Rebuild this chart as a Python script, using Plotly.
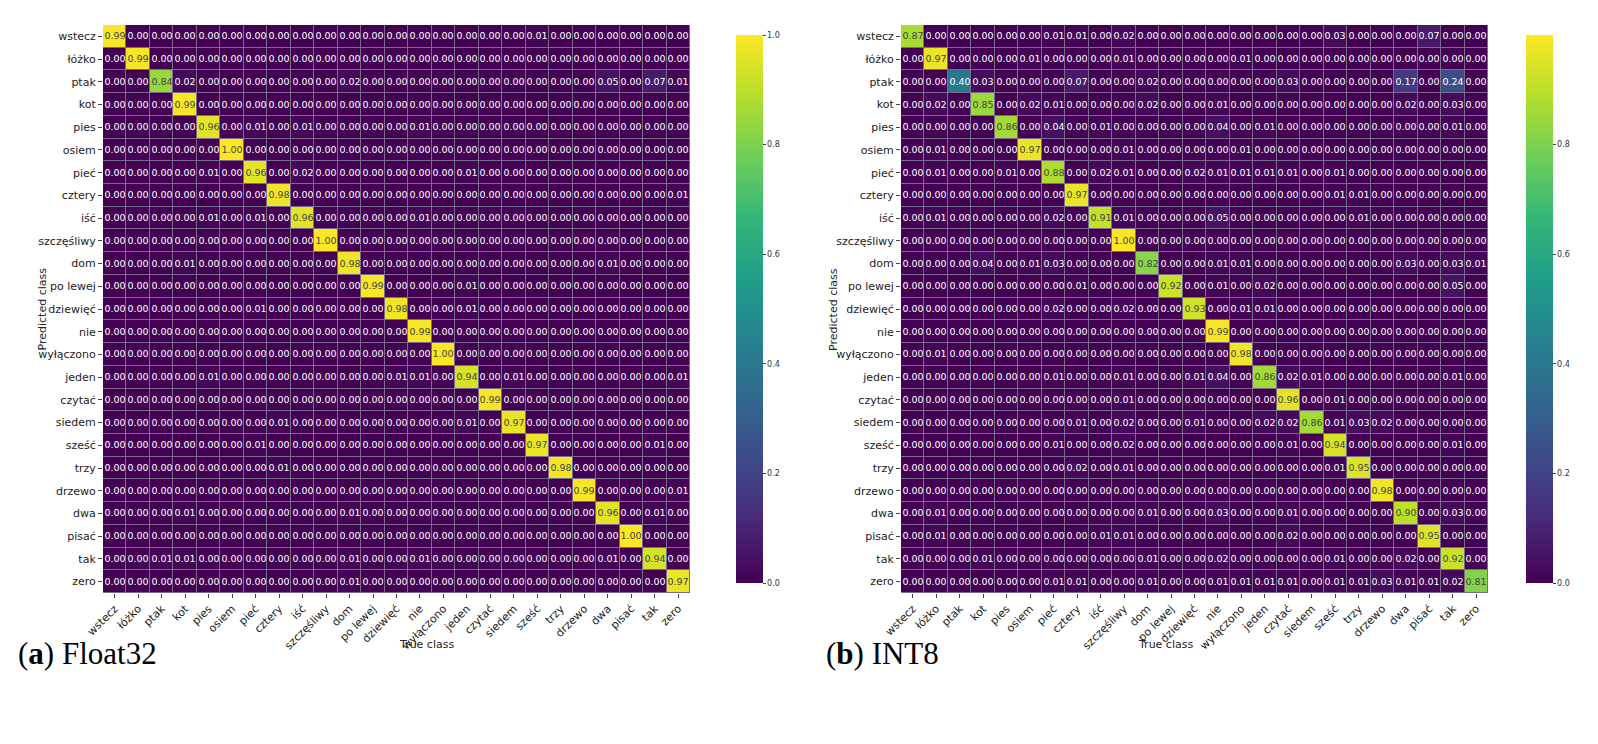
import plotly.graph_objects as go

classes = ["wstecz","łóżko","ptak","kot","pies","osiem","pieć","cztery","iść","szczęśliwy",
           "dom","po lewej","dziewięć","nie","wyłączono","jeden","czytać","siedem","sześć","trzy",
           "drzewo","dwa","pisać","tak","zero"]

float32 = [
 [0.99,0,0,0,0, 0,0,0,0,0, 0,0,0,0,0, 0,0,0,0.01,0, 0,0,0,0,0],
 [0,0.99,0,0,0, 0,0,0,0,0, 0,0,0,0,0, 0,0,0,0,0, 0,0,0,0,0],
 [0,0,0.84,0.02,0, 0,0,0,0,0, 0.02,0,0,0,0, 0,0,0,0,0, 0,0.05,0,0.07,0.01],
 [0,0,0,0.99,0, 0,0,0,0,0, 0,0,0,0,0, 0,0,0,0,0, 0,0,0,0,0],
 [0,0,0,0,0.96, 0,0.01,0,0.01,0, 0,0,0,0.01,0, 0,0,0,0,0, 0,0,0,0,0],
 [0,0,0,0,0, 1.00,0,0,0,0, 0,0,0,0,0, 0,0,0,0,0, 0,0,0,0,0],
 [0,0,0,0,0.01, 0,0.96,0,0.02,0, 0,0,0,0,0, 0.01,0,0,0,0, 0,0,0,0,0],
 [0,0,0,0,0, 0,0,0.98,0,0, 0,0,0,0,0, 0,0,0,0,0, 0,0,0,0,0.01],
 [0,0,0,0,0.01, 0,0.01,0,0.96,0, 0,0,0,0.01,0, 0,0,0,0,0, 0,0,0,0,0],
 [0,0,0,0,0, 0,0,0,0,1.00, 0,0,0,0,0, 0,0,0,0,0, 0,0,0,0,0],
 [0,0,0,0.01,0, 0,0,0,0,0, 0.98,0,0,0,0, 0,0,0,0,0, 0,0.01,0,0,0],
 [0,0,0,0,0, 0,0,0,0,0, 0,0.99,0,0,0, 0.01,0,0,0,0, 0,0,0,0,0],
 [0,0,0,0,0, 0,0.01,0,0,0, 0,0,0.98,0,0, 0.01,0,0,0,0, 0,0,0,0,0],
 [0,0,0,0,0, 0,0,0,0,0, 0,0,0,0.99,0, 0,0,0,0,0, 0,0,0,0,0],
 [0,0,0,0,0, 0,0,0,0,0, 0,0,0,0,1.00, 0,0,0,0,0, 0,0,0,0,0],
 [0,0,0,0,0.01, 0,0,0,0,0, 0,0,0.01,0.01,0, 0.94,0,0.01,0,0, 0,0,0,0,0.01],
 [0,0,0,0,0, 0,0,0,0,0, 0,0,0,0,0, 0,0.99,0,0,0, 0,0,0,0,0],
 [0,0,0,0,0, 0,0,0.01,0,0, 0,0,0,0,0, 0.01,0,0.97,0,0, 0,0,0,0,0],
 [0,0,0,0,0, 0,0.01,0,0,0, 0,0,0,0,0, 0,0,0,0.97,0, 0,0,0,0.01,0],
 [0,0,0,0,0, 0,0,0.01,0,0, 0,0,0,0,0, 0,0,0,0,0.98, 0,0,0,0,0],
 [0,0,0,0,0, 0,0,0,0,0, 0,0,0,0,0, 0,0,0,0,0, 0.99,0,0,0,0.01],
 [0,0,0,0.01,0, 0,0,0,0,0, 0.01,0,0,0,0, 0,0,0,0,0, 0,0.96,0,0.01,0],
 [0,0,0,0,0, 0,0,0,0,0, 0,0,0,0,0, 0,0,0,0,0, 0,0,1.00,0,0],
 [0,0,0.01,0.01,0, 0,0,0,0,0, 0.01,0,0,0.01,0, 0,0,0,0,0, 0,0.01,0,0.94,0],
 [0,0,0,0,0, 0,0,0,0,0, 0.01,0,0,0,0, 0,0,0,0,0, 0,0,0,0,0.97],
]

int8 = [
 [0.87,0,0,0,0, 0,0.01,0.01,0,0.02, 0,0,0,0,0, 0,0,0,0.03,0, 0,0,0.07,0,0],
 [0,0.97,0,0,0, 0.01,0,0,0,0.01, 0,0,0,0,0.01, 0,0,0,0,0, 0,0,0,0,0],
 [0,0,0.40,0.03,0, 0,0,0.07,0,0, 0.02,0,0,0,0, 0,0.03,0,0,0, 0,0.17,0,0.24,0],
 [0,0.02,0,0.85,0, 0.02,0.01,0,0,0, 0.02,0,0,0.01,0, 0,0,0,0,0, 0,0.02,0,0.03,0],
 [0,0,0,0,0.86, 0,0.04,0,0.01,0, 0,0,0,0.04,0, 0.01,0,0,0,0, 0,0,0,0.01,0],
 [0,0.01,0,0,0, 0.97,0,0,0,0.01, 0,0,0,0,0.01, 0,0,0,0,0, 0,0,0,0,0],
 [0,0.01,0,0,0.01, 0,0.88,0,0.02,0.01, 0,0,0.02,0.01,0.01, 0.01,0.01,0,0.01,0, 0,0,0,0,0],
 [0,0,0,0,0, 0,0,0.97,0,0, 0,0,0,0,0, 0,0,0,0.01,0.01, 0,0,0,0,0],
 [0,0.01,0,0,0, 0,0.02,0,0.91,0.01, 0,0,0,0.05,0, 0,0,0,0,0.01, 0,0,0,0,0],
 [0,0,0,0,0, 0,0,0,0,1.00, 0,0,0,0,0, 0,0,0,0,0, 0,0,0,0,0],
 [0,0,0,0.04,0, 0.01,0.03,0,0,0, 0.82,0,0,0.01,0.01, 0,0,0,0,0, 0,0.03,0,0.03,0.01],
 [0,0,0,0,0, 0,0,0.01,0,0, 0,0.92,0,0.01,0, 0.02,0,0,0,0, 0,0,0,0.05,0],
 [0,0,0,0,0, 0,0.02,0,0,0.02, 0,0,0.93,0,0.01, 0.01,0,0,0,0, 0,0,0,0,0],
 [0,0,0,0,0, 0,0,0,0,0, 0,0,0,0.99,0, 0,0,0,0,0, 0,0,0,0,0],
 [0,0.01,0,0,0, 0,0,0,0,0, 0,0,0,0,0.98, 0,0,0,0,0, 0,0,0,0,0],
 [0,0,0,0,0, 0,0.01,0,0,0.01, 0,0,0.01,0.04,0, 0.86,0.02,0.01,0,0, 0,0,0,0.01,0],
 [0,0,0,0,0, 0,0,0,0,0.01, 0,0,0,0,0, 0,0.96,0,0.01,0, 0,0,0,0,0],
 [0,0,0,0,0, 0,0,0.01,0,0.02, 0,0,0.01,0,0, 0.02,0.02,0.86,0.01,0.03, 0.02,0,0,0,0],
 [0,0,0,0,0, 0,0.01,0,0,0.02, 0,0,0,0,0, 0,0.01,0,0.94,0, 0,0,0,0.01,0],
 [0,0,0,0,0, 0,0,0.02,0,0.01, 0,0,0,0,0, 0,0,0,0.01,0.95, 0,0,0,0,0],
 [0,0,0,0,0, 0,0,0,0,0, 0,0,0,0,0, 0,0,0,0,0, 0.98,0,0,0,0],
 [0,0.01,0,0,0, 0,0,0,0,0, 0.01,0,0,0.03,0, 0,0.01,0,0,0, 0,0.90,0,0.03,0],
 [0,0.01,0,0,0, 0,0,0,0.01,0.01, 0,0,0,0,0, 0,0.02,0,0,0, 0,0,0.95,0,0],
 [0,0,0,0.01,0, 0,0,0,0,0, 0.01,0,0,0.02,0, 0,0,0,0.01,0, 0,0.02,0,0.92,0],
 [0,0,0,0,0, 0,0.01,0.01,0,0, 0.01,0,0,0.01,0.01, 0.01,0.01,0,0.01,0.01, 0.03,0.01,0.01,0.02,0.81],
]

W, H = 1598, 744
FONT = "DejaVu Sans"
ytop, ybot = 1 - 17/H, 1 - 585/H

fig = go.Figure()
specs = [
    (float32, "x", "y", [95/W, 682/W], 718/W, [0, 0.2, 0.4, 0.6, 0.8, 1.0]),
    (int8, "x2", "y2", [893/W, 1480/W], 1508/W, [0, 0.2, 0.4, 0.6, 0.8]),
]
for i, (z, xa, ya, dom, cbx, ticks) in enumerate(specs):
    fig.add_trace(go.Heatmap(
        z=z, x=classes, y=classes, xaxis=xa, yaxis=ya,
        colorscale="Viridis", zmin=0, zmax=1.0, xgap=1, ygap=1,
        texttemplate="%{z:.2f}", textfont=dict(size=9.5, family=FONT),
        colorbar=dict(x=cbx, xanchor="left", y=ybot, yanchor="bottom",
                      len=ytop - ybot, lenmode="fraction", thickness=27,
                      outlinewidth=0, tickvals=ticks, ticks="outside", ticklen=3,
                      tickformat=".1f", tickfont=dict(size=8, family=FONT, color="#333")),
    ))
    sfx = "" if i == 0 else "2"
    fig.update_layout(**{
        "xaxis" + sfx: dict(domain=dom, anchor=ya, tickangle=-45, showgrid=False, automargin=False,
                            ticks="outside", ticklen=4, tickfont=dict(size=11, family=FONT, color="#222")),
        "yaxis" + sfx: dict(domain=[ybot, ytop], anchor=xa, autorange="reversed", showgrid=False,
                            automargin=False,
                            ticks="outside", ticklen=4, tickfont=dict(size=11, family=FONT, color="#222")),
    })
    cx = (dom[0] + dom[1]) / 2
    fig.add_annotation(x=cx, y=1 - 645/H, xref="paper", yref="paper", text="True class",
                       showarrow=False, font=dict(size=11, family=FONT, color="#222"))
    fig.add_annotation(x=(25 if i == 0 else 825)/W, y=(ytop + ybot)/2, xref="paper", yref="paper",
                       text="Predicted class", textangle=-90, showarrow=False,
                       font=dict(size=11, family=FONT, color="#222"))

fig.add_annotation(x=8/W, y=1 - 665/H, xref="paper", yref="paper", xanchor="left",
                   text="(<b>a</b>) Float32", showarrow=False,
                   font=dict(size=31, family="Liberation Serif", color="black"))
fig.add_annotation(x=816/W, y=1 - 665/H, xref="paper", yref="paper", xanchor="left",
                   text="(<b>b</b>) INT8", showarrow=False,
                   font=dict(size=31, family="Liberation Serif", color="black"))

fig.update_layout(width=W, height=H, margin=dict(l=0, r=0, t=0, b=0, autoexpand=False),
                  paper_bgcolor="white", plot_bgcolor="#7a6c8c", showlegend=False)
fig.write_html("out.html")
